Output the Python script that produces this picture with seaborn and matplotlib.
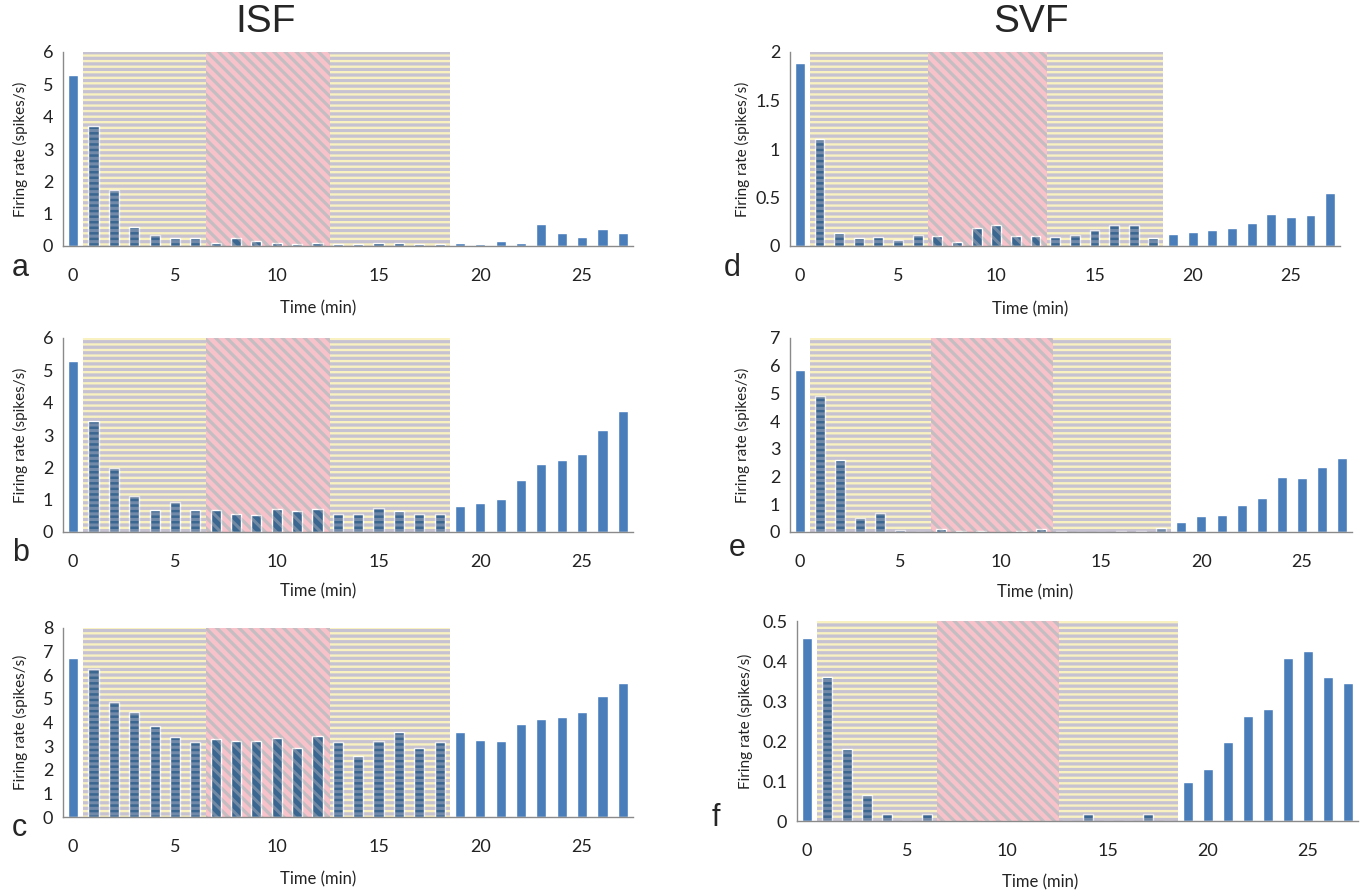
import matplotlib
matplotlib.use('Agg')
import matplotlib.pyplot as plt
import seaborn as sns
import pandas as pd
from matplotlib.ticker import FuncFormatter, FixedLocator

'''
Firing rate per minute, ISF (left column) and SVF (right column)
'''
time_min = list(range(28))

isf_a = [5.28, 3.72, 1.73, 0.58, 0.35, 0.25, 0.25, 0.10, 0.25, 0.15, 0.10, 0.07, 0.10, 0.07,
         0.05, 0.10, 0.10, 0.07, 0.05, 0.10, 0.07, 0.14, 0.10, 0.69, 0.41, 0.28, 0.52, 0.41]
isf_b = [5.28, 3.42, 1.97, 1.10, 0.68, 0.94, 0.68, 0.67, 0.56, 0.52, 0.70, 0.64, 0.70, 0.55,
         0.57, 0.75, 0.64, 0.55, 0.55, 0.81, 0.90, 1.01, 1.62, 2.11, 2.23, 2.42, 3.14, 3.73]
isf_c = [6.72, 6.26, 4.86, 4.46, 3.87, 3.39, 3.16, 3.32, 3.20, 3.20, 3.36, 2.91, 3.43, 3.16,
         2.58, 3.22, 3.59, 2.92, 3.16, 3.59, 3.28, 3.20, 3.92, 4.13, 4.24, 4.44, 5.14, 5.67]
svf_d = [1.89, 1.10, 0.137, 0.08, 0.09, 0.06, 0.11, 0.10, 0.04, 0.19, 0.215, 0.10, 0.10, 0.09,
         0.11, 0.16, 0.22, 0.22, 0.08, 0.12, 0.14, 0.16, 0.185, 0.24, 0.335, 0.30, 0.32, 0.55]
svf_e = [5.86, 4.90, 2.60, 0.49, 0.67, 0.08, 0.0, 0.12, 0.05, 0.04, 0.01, 0.05, 0.10, 0.05,
         0.0, 0.0, 0.04, 0.04, 0.15, 0.36, 0.58, 0.61, 0.97, 1.21, 1.98, 1.94, 2.36, 2.67]
svf_f = [0.457, 0.36, 0.18, 0.065, 0.017, 0.0, 0.017, 0.0, 0.0, 0.0, 0.0, 0.0, 0.0, 0.0,
         0.017, 0.0, 0.0, 0.017, 0.0, 0.098, 0.13, 0.198, 0.263, 0.279, 0.408, 0.425, 0.36, 0.346]

# treatment phases (min): washout / drug / washout
phase_edges = [0.5, 6.5, 12.6, 18.5]
phase_kinds = ['wash', 'drug', 'wash']

BAR_OUT = '#4a7ebb'
BAR_IN = '#3a6690'
GREY = '#8a8a8a'
PHASE_STYLE = {
    'wash': ('#faf1c0', '#c6c2d2', '---'),
    'drug': ('#f7c2ca', '#c4bec2', '\\\\\\'),
}

sns.set_style('white')
plt.rcParams['font.family'] = ['Lato', 'DejaVu Sans']
plt.rcParams['hatch.linewidth'] = 2.2

W, H = 1360.0, 890.0


def draw_panel(ax, values, ymax, ystep):
    df = pd.DataFrame({'t': [str(t) for t in time_min], 'rate': values})
    colors = {}
    for t in time_min:
        inside = phase_edges[0] < t < phase_edges[-1]
        colors[str(t)] = BAR_IN if inside else BAR_OUT
    sns.barplot(data=df, x='t', y='rate', hue='t', palette=colors, legend=False,
                width=0.5, saturation=1, ax=ax, zorder=2)

    for x0, x1, kind in zip(phase_edges[:-1], phase_edges[1:], phase_kinds):
        face, line, hatch = PHASE_STYLE[kind]
        ax.axvspan(x0, x1, facecolor=face, edgecolor=line, hatch=hatch, lw=0, zorder=0.5)
        ax.axvspan(x0, x1, facecolor='none', edgecolor=line, hatch=hatch, lw=0,
                   alpha=0.4, zorder=3)

    ax.set_xlim(-0.5, 27.5)
    ax.set_ylim(0, ymax)
    n = int(round(ymax / ystep))
    ax.set_yticks([i * ystep for i in range(n + 1)])
    ax.yaxis.set_major_formatter(FuncFormatter(lambda v, p: '{:g}'.format(round(v, 3))))
    ax.set_xticks([0, 5, 10, 15, 20, 25])
    ax.set_xticklabels(['0', '5', '10', '15', '20', '25'])
    ax.xaxis.set_minor_locator(FixedLocator([-0.5, 4.5, 9.5, 14.5, 19.5, 24.5]))
    ax.tick_params(axis='x', which='major', length=0, pad=16, labelsize=13, labelcolor='#222222')
    ax.tick_params(axis='x', which='minor', length=5, width=1, color=GREY, direction='out')
    ax.tick_params(axis='y', length=4, width=1, color=GREY, direction='out', labelsize=13,
                   labelcolor='#222222', pad=3)
    for side in ['top', 'right']:
        ax.spines[side].set_visible(False)
    for side in ['left', 'bottom']:
        ax.spines[side].set_color(GREY)
        ax.spines[side].set_linewidth(1)
        ax.spines[side].set_zorder(4)
    ax.set_xlabel('Time (min)', fontsize=12, color='#222222')
    ax.set_ylabel('Firing rate (spikes/s)', fontsize=11, color='#222222')


fig = plt.figure(figsize=(13.6, 8.9), dpi=100)


def add_axes(left, right, top, bottom):
    return fig.add_axes([left / W, 1 - bottom / H, (right - left) / W, (bottom - top) / H])


panels = [
    # values, ymax, step, (left, right, top, bottom), xlabel centre (x, y), ylabel x
    (isf_a, 6, 1, (63, 633, 52, 246), (318, 308), 20),
    (isf_b, 6, 1, (63, 633, 338, 532), (318, 591), 20),
    (isf_c, 8, 1, (63, 633, 628, 817), (318, 879), 20),
    (svf_d, 2, 0.5, (790, 1340, 52, 246), (1030, 309), 742),
    (svf_e, 7, 1, (790, 1352, 338, 532), (1035, 592), 742),
    (svf_f, 0.5, 0.1, (797, 1358, 621, 821), (1040, 882), 745),
]

for values, ymax, step, box, (lx, ly), ylx in panels:
    left, right, top, bottom = box
    ax = add_axes(left, right, top, bottom)
    draw_panel(ax, values, ymax, step)
    ax.xaxis.set_label_coords((lx - left) / (right - left), (bottom - ly) / (bottom - top))
    ax.xaxis.label.set_va('center')
    ax.yaxis.set_label_coords((ylx - left) / (right - left), 0.5)
    ax.yaxis.label.set_va('center')

letter_font = ['Liberation Sans', 'DejaVu Sans']
for letter, (px, py) in zip('abcdef', [(12, 268), (12, 553), (12, 828), (724, 268), (729, 548), (712, 818)]):
    fig.text(px / W, 1 - py / H, letter, fontsize=22, family=letter_font, va='center', ha='left')

title_font = ['Liberation Sans Narrow', 'Liberation Sans', 'DejaVu Sans']
fig.text(266 / W, 1 - 22 / H, 'ISF', fontsize=28, family=title_font, ha='center', va='center')
fig.text(1031 / W, 1 - 22 / H, 'SVF', fontsize=28, family=title_font, ha='center', va='center')

fig.savefig('out.png', dpi=100)
